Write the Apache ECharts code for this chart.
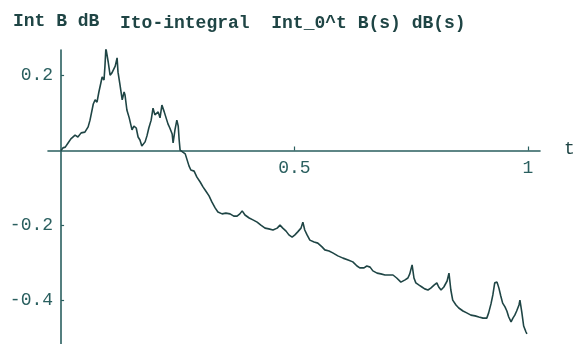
<!DOCTYPE html>
<html>
<head>
<meta charset="utf-8">
<script src="https://cdn.jsdelivr.net/npm/echarts@6/dist/echarts.min.js"></script>
<style>
  html, body { margin: 0; padding: 0; background: #ffffff; }
  #chart { width: 573px; height: 344px; }
</style>
</head>
<body>
<div id="chart"></div>
<script>
// Sample path of the Ito integral Int_0^t B(s) dB(s) on [0, 1]
var timeValues = [
  0, 0.004, 0.009, 0.015, 0.021, 0.030, 0.036, 0.043, 0.051, 0.058,
  0.062, 0.069, 0.073, 0.077, 0.081, 0.088, 0.092, 0.094, 0.096, 0.101,
  0.105, 0.109, 0.116, 0.120, 0.122, 0.126, 0.131, 0.135, 0.137, 0.141,
  0.146, 0.152, 0.156, 0.161, 0.165, 0.169, 0.173, 0.176, 0.180, 0.184,
  0.188, 0.193, 0.197, 0.201, 0.208, 0.212, 0.216, 0.221, 0.225, 0.229,
  0.233, 0.238, 0.240, 0.244, 0.248, 0.251, 0.253, 0.255, 0.259, 0.266,
  0.270, 0.274, 0.278, 0.285, 0.291, 0.298, 0.304, 0.310, 0.317, 0.323,
  0.330, 0.336, 0.345, 0.353, 0.362, 0.370, 0.377, 0.383, 0.388, 0.394,
  0.403, 0.411, 0.420, 0.428, 0.437, 0.445, 0.454, 0.463, 0.469, 0.475,
  0.482, 0.488, 0.495, 0.501, 0.507, 0.514, 0.518, 0.522, 0.527, 0.533,
  0.542, 0.550, 0.559, 0.565, 0.574, 0.582, 0.593, 0.604, 0.615, 0.625,
  0.634, 0.640, 0.649, 0.655, 0.662, 0.668, 0.677, 0.685, 0.694, 0.702,
  0.711, 0.719, 0.728, 0.737, 0.743, 0.747, 0.752, 0.756, 0.760, 0.767,
  0.773, 0.779, 0.786, 0.792, 0.799, 0.805, 0.809, 0.814, 0.820, 0.827,
  0.831, 0.835, 0.839, 0.846, 0.852, 0.861, 0.869, 0.878, 0.887, 0.895,
  0.904, 0.912, 0.916, 0.921, 0.925, 0.929, 0.934, 0.938, 0.942, 0.946,
  0.951, 0.955, 0.959, 0.964, 0.968, 0.972, 0.976, 0.981, 0.983, 0.987,
  0.991, 0.996, 0.998
];
var integralValues = [
  0, 0.007, 0.009, 0.020, 0.031, 0.041, 0.036, 0.047, 0.049, 0.063,
  0.081, 0.124, 0.135, 0.129, 0.156, 0.196, 0.188, 0.225, 0.273, 0.236,
  0.201, 0.207, 0.225, 0.247, 0.209, 0.177, 0.135, 0.156, 0.148, 0.108,
  0.087, 0.055, 0.065, 0.060, 0.036, 0.028, 0.012, 0.009, 0.023, 0.039,
  0.060, 0.081, 0.113, 0.095, 0.103, 0.087, 0.121, 0.103, 0.087, 0.071,
  0.060, 0.044, 0.020, 0.055, 0.081, 0.065, 0.028, 0.001, -0.004, -0.009,
  -0.025, -0.041, -0.052, -0.055, -0.071, -0.084, -0.097, -0.108, -0.121, -0.137,
  -0.153, -0.164, -0.169, -0.167, -0.169, -0.175, -0.175, -0.169, -0.161, -0.172,
  -0.180, -0.185, -0.191, -0.199, -0.207, -0.209, -0.212, -0.207, -0.199, -0.207,
  -0.215, -0.225, -0.231, -0.225, -0.217, -0.207, -0.191, -0.212, -0.225, -0.239,
  -0.244, -0.247, -0.257, -0.265, -0.268, -0.273, -0.281, -0.287, -0.292, -0.297,
  -0.308, -0.313, -0.313, -0.308, -0.311, -0.321, -0.327, -0.329, -0.332, -0.332,
  -0.332, -0.340, -0.351, -0.345, -0.340, -0.329, -0.305, -0.340, -0.353, -0.359,
  -0.364, -0.369, -0.372, -0.367, -0.359, -0.353, -0.364, -0.372, -0.364, -0.348,
  -0.327, -0.372, -0.399, -0.412, -0.420, -0.428, -0.433, -0.439, -0.441, -0.444,
  -0.447, -0.447, -0.433, -0.409, -0.385, -0.353, -0.351, -0.367, -0.388, -0.407,
  -0.417, -0.428, -0.444, -0.457, -0.447, -0.439, -0.428, -0.412, -0.399, -0.431,
  -0.468, -0.484, -0.489
];
var xTickValues = [0.5, 1];
var yTickValues = [-0.4, -0.2, 0.2];
var yAxisTitle = 'Int B dB';
var plotTitle = 'Ito-integral  Int_0^t B(s) dB(s)';
var xAxisTitle = 't';

var inkColor = '#1f4545';
var axisColor = '#2a5f5f';
var monoFont = '"Liberation Mono", "DejaVu Sans Mono", monospace';

// Plot box and value ranges; the axes cross at the origin
var gridBox = { left: 48, right: 33, top: 50, bottom: 0, width: 492, height: 294 };
var xRange = [-0.028, 1.026];
var yRange = [-0.516, 0.268];
// distance of the zero lines from the box edges, so both axes can be shifted onto them
var xAxisShift = -gridBox.height * (0 - yRange[0]) / (yRange[1] - yRange[0]);
var yAxisShift = -gridBox.width * (0 - xRange[0]) / (xRange[1] - xRange[0]);

var points = timeValues.map(function (t, i) { return [t, integralValues[i]]; });

var chart = echarts.init(document.getElementById('chart'), null, { renderer: 'canvas' });
chart.setOption({
  animation: false,
  backgroundColor: '#ffffff',
  title: [
    {
      text: yAxisTitle, left: 8, top: 7,
      textStyle: { fontFamily: monoFont, fontSize: 18, fontWeight: 'bold', color: inkColor }
    },
    {
      text: plotTitle, left: 115, top: 9,
      textStyle: { fontFamily: monoFont, fontSize: 18, fontWeight: 'bold', color: inkColor }
    }
  ],
  grid: {
    left: gridBox.left, right: gridBox.right, top: gridBox.top, bottom: gridBox.bottom,
    containLabel: false, outerBoundsMode: 'none'
  },
  xAxis: {
    type: 'value',
    min: xRange[0], max: xRange[1],
    position: 'bottom',
    offset: xAxisShift,
    name: xAxisTitle,
    nameLocation: 'end',
    nameGap: 24,
    nameTextStyle: { fontFamily: monoFont, fontSize: 18, color: inkColor, verticalAlign: 'bottom', padding: [0, 0, -8, 0] },
    axisLine: { onZero: false, lineStyle: { color: axisColor, width: 1.6 } },
    axisTick: { show: true, inside: true, length: 4, customValues: xTickValues, lineStyle: { color: axisColor, width: 1.2 } },
    axisLabel: {
      customValues: xTickValues, margin: 9,
      fontFamily: monoFont, fontSize: 18, color: axisColor,
      formatter: function (v) { return String(v); }
    },
    splitLine: { show: false }
  },
  yAxis: {
    type: 'value',
    min: yRange[0], max: yRange[1],
    position: 'left',
    offset: yAxisShift,
    axisLine: { onZero: false, lineStyle: { color: axisColor, width: 1.6 } },
    axisTick: { show: true, inside: true, length: 3, customValues: yTickValues, lineStyle: { color: axisColor, width: 1.2 } },
    axisLabel: {
      customValues: yTickValues, margin: 8,
      fontFamily: monoFont, fontSize: 18, color: axisColor,
      formatter: function (v) { return String(v); }
    },
    splitLine: { show: false }
  },
  series: [{
    type: 'line',
    data: points,
    showSymbol: false,
    lineStyle: { color: inkColor, width: 1.6 },
    z: 3
  }]
});
</script>
</body>
</html>
